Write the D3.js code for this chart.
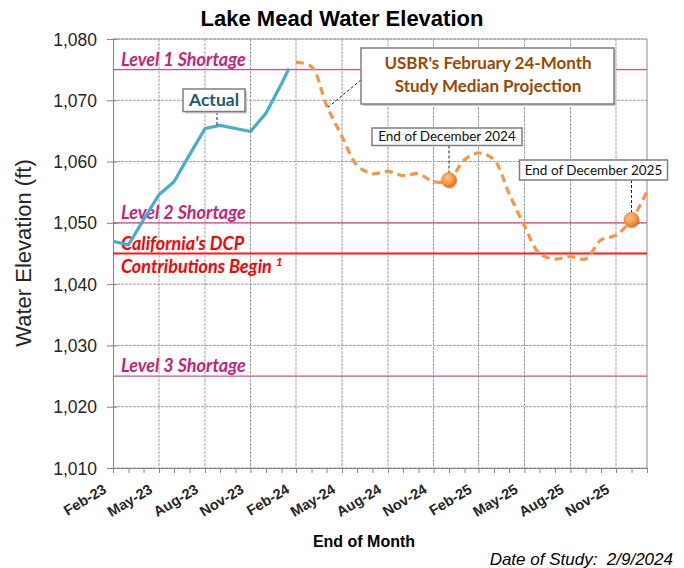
<!DOCTYPE html>
<html><head><meta charset="utf-8">
<script src="https://cdn.jsdelivr.net/npm/d3@7"></script>
<style>html,body{margin:0;background:#fff}svg{display:block}</style>
</head><body><div id="chart"></div>
<script>
// Lake Mead water elevation — actual vs USBR 24-month study projection
const months = ['2023-02','2023-03','2023-04','2023-05','2023-06','2023-07','2023-08','2023-09','2023-10','2023-11','2023-12','2024-01',
  '2024-02','2024-03','2024-04','2024-05','2024-06','2024-07','2024-08','2024-09','2024-10','2024-11','2024-12','2025-01',
  '2025-02','2025-03','2025-04','2025-05','2025-06','2025-07','2025-08','2025-09','2025-10','2025-11','2025-12','2026-01'];
const actualDates = ['2023-02','2023-03','2023-04','2023-05','2023-06','2023-07','2023-08','2023-09','2023-10','2023-11','2023-12','2024-01','2024-02-15'];
const actualVals  = [1047.0,1046.4,1050.5,1054.6,1056.7,1061.1,1065.4,1065.9,1065.4,1064.9,1067.9,1072.7,1075.2];
const projDates = months.slice(12);
const projVals  = [1076.2,1075.5,1069.2,1064.1,1059.4,1058.0,1058.4,1057.7,1058.0,1056.7,1057.0,1060.3,
  1061.4,1060.3,1054.8,1049.5,1045.0,1044.1,1044.5,1044.1,1047.2,1048.0,1050.5,1055.1];
const yTicks = [1010,1020,1030,1040,1050,1060,1070,1080];
const levels = [
  {v:1075, label:'Level 1 Shortage', col:'#d2508a', tcol:'#c71f7a'},
  {v:1050, label:'Level 2 Shortage', col:'#d2508a', tcol:'#c71f7a'},
  {v:1045, label:"California's DCP", label2:'Contributions Begin ', col:'#ff1a1a', tcol:'#ff0000', w:2},
  {v:1025, label:'Level 3 Shortage', col:'#d2508a', tcol:'#c71f7a'}];
const marks = [{d:'2024-12', v:1057.0, label:'End of December 2024'}, {d:'2025-12', v:1050.5, label:'End of December 2025'}];

const W=684, H=568, L=113, R=647, T=39, B=468;
// month-end date of a 'YYYY-MM' string, or the exact day for 'YYYY-MM-DD'
const toDate = s => { const p=s.split('-').map(Number); return p.length>2 ? new Date(p[0],p[1]-1,p[2]) : new Date(p[0],p[1],0); };
const x = d3.scaleTime().domain([toDate(months[0]), toDate(months[months.length-1])]).range([L,R]);
const y = d3.scaleLinear().domain([1010,1080]).range([B,T]);

const svg = d3.select('#chart').append('svg').attr('width',W).attr('height',H);
const defs = svg.append('defs');
const rg = defs.append('radialGradient').attr('id','ball').attr('cx','40%').attr('cy','35%').attr('r','65%');
rg.append('stop').attr('offset','0%').attr('stop-color','#ffc58a');
rg.append('stop').attr('offset','60%').attr('stop-color','#f79646');
rg.append('stop').attr('offset','100%').attr('stop-color','#d9741f');

const AX="'Liberation Sans', Arial, sans-serif", CAL="Lato, 'Open Sans', sans-serif";

// gridlines
const grid = svg.append('g').attr('stroke','#a0a0a0').attr('stroke-dasharray','3 1');
yTicks.forEach(t=>grid.append('line').attr('x1',L).attr('x2',R).attr('y1',y(t)).attr('y2',y(t)));
months.forEach((m,i)=>{ if(i%3===0 && i>0) grid.append('line').attr('x1',x(toDate(m))).attr('x2',x(toDate(m))).attr('y1',T).attr('y2',B); });
svg.append('line').attr('x1',R).attr('x2',R).attr('y1',T).attr('y2',B).attr('stroke','#8c8c8c');
svg.append('line').attr('x1',L).attr('x2',R).attr('y1',T).attr('y2',T).attr('stroke','#a0a0a0');

// axes
const ya = svg.append('g').attr('transform',`translate(${L},0)`)
  .call(d3.axisLeft(y).tickValues(yTicks).tickFormat(d3.format(',')).tickSizeInner(6).tickSizeOuter(0).tickPadding(10));
ya.select('.domain').attr('stroke','#868686');
ya.selectAll('.tick line').attr('stroke','#868686').attr('x2',4).attr('x1',-6);
ya.selectAll('text').attr('font-family',AX).attr('font-size',17.5).attr('fill','#262626').attr('dy','0.35em');

const xm = svg.append('g').attr('transform',`translate(0,${B})`)
  .call(d3.axisBottom(x).tickValues(months.map(toDate)).tickFormat('').tickSizeInner(5).tickSizeOuter(0));
xm.select('.domain').attr('stroke','#868686');
xm.selectAll('.tick line').attr('stroke','#868686');
const xl = svg.append('g').attr('transform',`translate(0,${B})`)
  .call(d3.axisBottom(x).tickValues(months.filter((m,i)=>i%3===0).map(toDate)).tickFormat(d3.timeFormat('%b-%y')).tickSize(0));
xl.select('.domain').remove();
xl.selectAll('text').attr('font-family',AX).attr('font-size',14.5).attr('font-weight',700).attr('fill','#262626')
  .attr('text-anchor','end').attr('y',0).attr('dy',0).attr('transform','translate(-6,24) rotate(-31)');

// reference levels
levels.forEach(lv=>{
  svg.append('line').attr('x1',L).attr('x2',R).attr('y1',y(lv.v)).attr('y2',y(lv.v)).attr('stroke',lv.col).attr('stroke-width',lv.w||1.3);
  svg.append('text').attr('x',121).attr('y',y(lv.v)-4).attr('font-family',CAL).attr('font-style','italic').attr('font-weight',700)
    .attr('font-size',18).attr('fill',lv.tcol).text(lv.label);
  if(lv.label2){
    const t=svg.append('text').attr('x',121).attr('y',y(lv.v)+19).attr('font-family',CAL).attr('font-style','italic').attr('font-weight',700)
      .attr('font-size',18).attr('fill',lv.tcol).text(lv.label2);
    t.append('tspan').attr('font-size',12).attr('dy',-7).text('1');
  }
});

// series
const aline = d3.line().x((d,i)=>x(toDate(actualDates[i]))).y(d=>y(d));
svg.append('path').datum(actualVals).attr('d',aline).attr('fill','none').attr('stroke','#4bacc6').attr('stroke-width',3.2).attr('stroke-linejoin','round');
const pline = d3.line().x((d,i)=>x(toDate(projDates[i]))).y(d=>y(d)).curve(d3.curveCatmullRom.alpha(0.5));
svg.append('path').datum(projVals).attr('d',pline).attr('fill','none').attr('stroke','#f79646').attr('stroke-width',3.2).attr('stroke-dasharray','8 5');

// callouts
function box(x0,y0,w,h,shadow){
  if(shadow) svg.append('rect').attr('x',x0+2).attr('y',y0+2).attr('width',w).attr('height',h).attr('fill','#c8c8c8');
  svg.append('rect').attr('x',x0).attr('y',y0).attr('width',w).attr('height',h).attr('fill','#fff').attr('stroke','#7f7f7f').attr('stroke-width',1.5);
}
const lead = (x1,y1,x2,y2)=>svg.append('line').attr('x1',x1).attr('y1',y1).attr('x2',x2).attr('y2',y2).attr('stroke','#222').attr('stroke-dasharray','3 2');

// "Actual"
const ax0 = x(toDate('2023-09'))-3;
lead(ax0, 112, ax0, y(1065.7));
box(183,89,62,22.5,true);
svg.append('text').attr('x',214).attr('y',106).attr('text-anchor','middle').attr('font-family',CAL).attr('font-weight',700)
  .attr('font-size',17.5).attr('fill','#215968').text('Actual');

// USBR projection
lead(361,80,x(toDate('2024-04'))+1,y(1068.8));
box(361,48,253,56,true);
['USBR\'s February 24-Month','Study Median Projection'].forEach((s,i)=>
  svg.append('text').attr('x',488).attr('y',69+i*23).attr('text-anchor','middle').attr('font-family',CAL).attr('font-weight',700)
    .attr('font-size',17).attr('fill','#984807').text(s));

// end-of-December markers
const mbox = [{x0:372,y0:128,w:150,h:17.5},{x0:519.5,y0:160,w:148,h:20}];
marks.forEach((m,i)=>{
  const cx=x(toDate(m.d)), cy=y(m.v), b=mbox[i];
  lead(cx,b.y0+b.h,cx,cy-7);
  box(b.x0,b.y0,b.w,b.h,false);
  svg.append('text').attr('x',b.x0+b.w/2).attr('y',b.y0+b.h/2+4.5).attr('text-anchor','middle').attr('font-family',CAL)
    .attr('font-size',13.5).attr('fill','#111').text(m.label);
  svg.append('circle').attr('cx',cx+1).attr('cy',cy+1.5).attr('r',7.5).attr('fill','rgba(0,0,0,.18)');
  svg.append('circle').attr('cx',cx).attr('cy',cy).attr('r',7.5).attr('fill','url(#ball)').attr('stroke','#e07b2a').attr('stroke-width',0.6);
});

// titles
svg.append('text').attr('x',342).attr('y',26).attr('text-anchor','middle').attr('font-family',AX).attr('font-weight',700)
  .attr('font-size',22).attr('fill','#000').text('Lake Mead Water Elevation');
svg.append('text').attr('transform',`translate(31,253) rotate(-90)`).attr('text-anchor','middle').attr('font-family',AX)
  .attr('font-size',22).attr('fill','#262626').text('Water Elevation (ft)');
svg.append('text').attr('x',364).attr('y',547).attr('text-anchor','middle').attr('font-family',AX).attr('font-weight',700)
  .attr('font-size',16).attr('fill','#000').text('End of Month');
svg.append('text').attr('x',673).attr('y',565).attr('text-anchor','end').attr('font-family',AX).attr('font-style','italic')
  .attr('font-size',17).attr('fill','#000').text('Date of Study:  2/9/2024').attr('xml:space','preserve').style('white-space','pre');
</script></body></html>
